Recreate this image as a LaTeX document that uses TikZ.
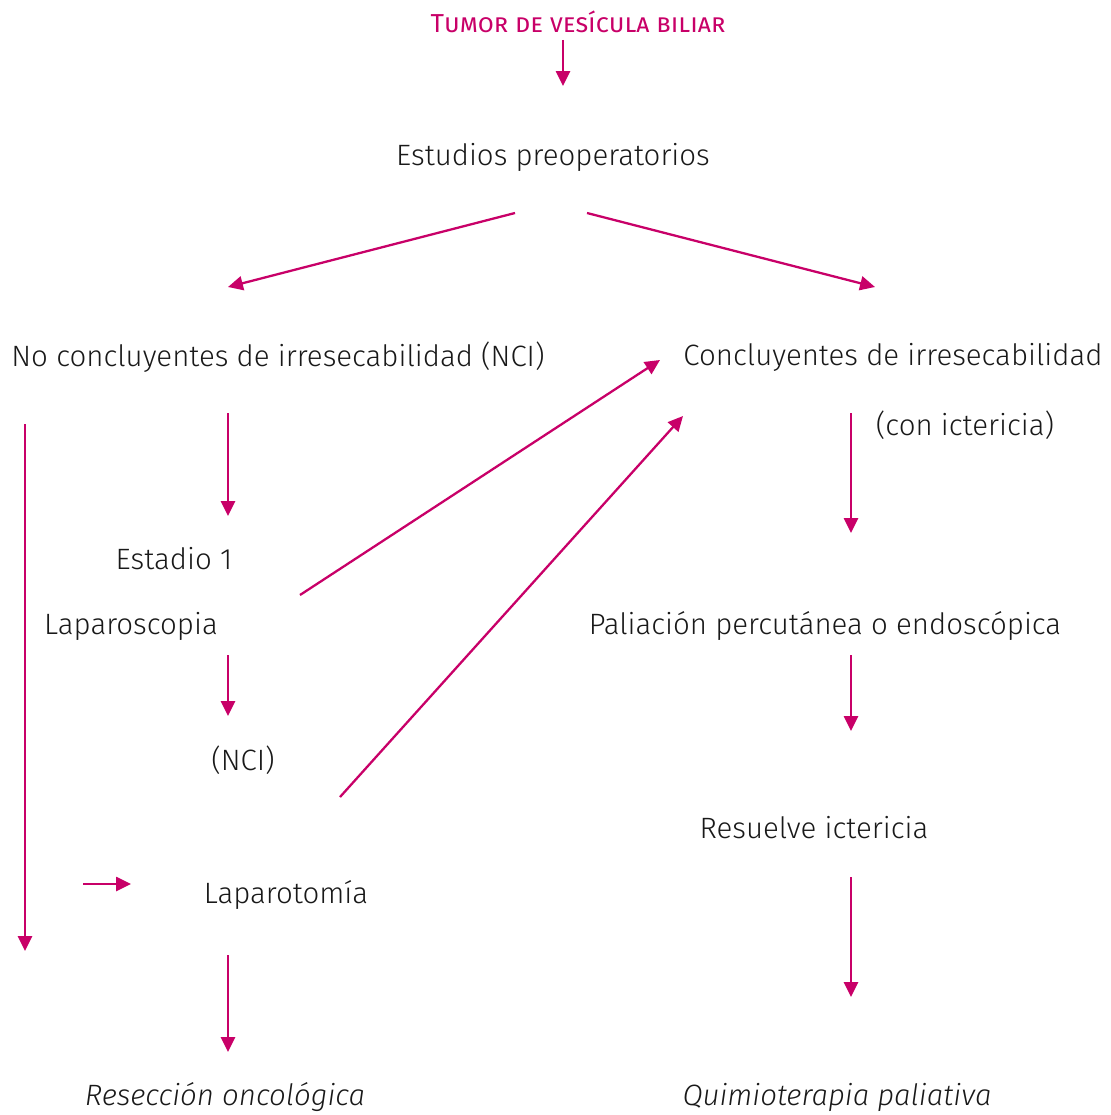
\documentclass[tikz,border=0pt]{standalone}
\usepackage{fontspec}
\setmainfont{Fira Sans}[UprightFont=* Light, ItalicFont=* Light Italic]
\newfontfamily\tumorfont{Fira Sans}
\usepackage{tikz}
\usetikzlibrary{arrows.meta, positioning}
\usepackage{xcolor}
\definecolor{magenta}{RGB}{200,0,104}
\definecolor{txtgray}{RGB}{25,25,25}

\begin{document}
\begin{tikzpicture}[
    x=0.02cm, y=-0.02cm,
    label/.style={inner sep=0pt, text=txtgray, font=\fontsize{16.75}{20}\selectfont},
    result/.style={label, font=\fontsize{16.75}{20}\selectfont\itshape},
    flow/.style={draw=magenta, line width=1.3pt, -{Triangle[length=8.5pt, width=8pt]}},
]
    \useasboundingbox (0,0) rectangle (1110,1115);

    % Title and first step
    \node[inner sep=0pt, text=magenta, font=\tumorfont\fontsize{14.8}{18}\selectfont\scshape] (tumor) at (578,22) {Tumor de vesícula biliar};
    \node[label] (est) at (553,157) {Estudios preoperatorios};

    % Two branches
    \node[label] (nci) at (278,357) {No concluyentes de irresecabilidad (NCI)};
    \node[label] (ci) at (893,357) {Concluyentes de irresecabilidad};
    \node[label] (icter) at (965,425) {(con ictericia)};

    % Left branch
    \node[label] (estadio) at (174,559) {Estadio 1};
    \node[label] (lapsc) at (131,626) {Laparoscopia};
    \node[label] (nci2) at (243,760) {(NCI)};
    \node[label] (lapto) at (286,895) {Laparotomía};
    \node[result] (resec) at (225,1097) {Resección oncológica};

    % Right branch
    \node[label] (palia) at (825,626) {Paliación percutánea o endoscópica};
    \node[label] (resu) at (814,828) {Resuelve ictericia};
    \node[result] (quimio) at (837,1097) {Quimioterapia paliativa};

    % Arrow ends
    \coordinate (a1) at (563,40);   \coordinate (a2) at (563,86);
    \coordinate (b1) at (515,213);  \coordinate (b2) at (228,287);
    \coordinate (c1) at (587,213);  \coordinate (c2) at (875,287);
    \coordinate (d1) at (228,413);  \coordinate (d2) at (228,516);
    \coordinate (e1) at (25,424);   \coordinate (e2) at (25,951);
    \coordinate (f1) at (300,595);  \coordinate (f2) at (660,360);
    \coordinate (g1) at (228,655);  \coordinate (g2) at (228,716);
    \coordinate (h1) at (340,797);  \coordinate (h2) at (683,416);
    \coordinate (i1) at (83,884);   \coordinate (i2) at (131,884);
    \coordinate (j1) at (228,955);  \coordinate (j2) at (228,1052);
    \coordinate (k1) at (851,413);  \coordinate (k2) at (851,533);
    \coordinate (l1) at (851,655);  \coordinate (l2) at (851,731);
    \coordinate (m1) at (851,877);  \coordinate (m2) at (851,997);

    % Connectors
    \draw[flow] (a1) -- (a2);
    \draw[flow] (b1) -- (b2);
    \draw[flow] (c1) -- (c2);
    \draw[flow] (d1) -- (d2);
    \draw[flow] (e1) -- (e2);
    \draw[flow] (f1) -- (f2);
    \draw[flow] (g1) -- (g2);
    \draw[flow] (h1) -- (h2);
    \draw[flow] (i1) -- (i2);
    \draw[flow] (j1) -- (j2);
    \draw[flow] (k1) -- (k2);
    \draw[flow] (l1) -- (l2);
    \draw[flow] (m1) -- (m2);
\end{tikzpicture}
\end{document}
